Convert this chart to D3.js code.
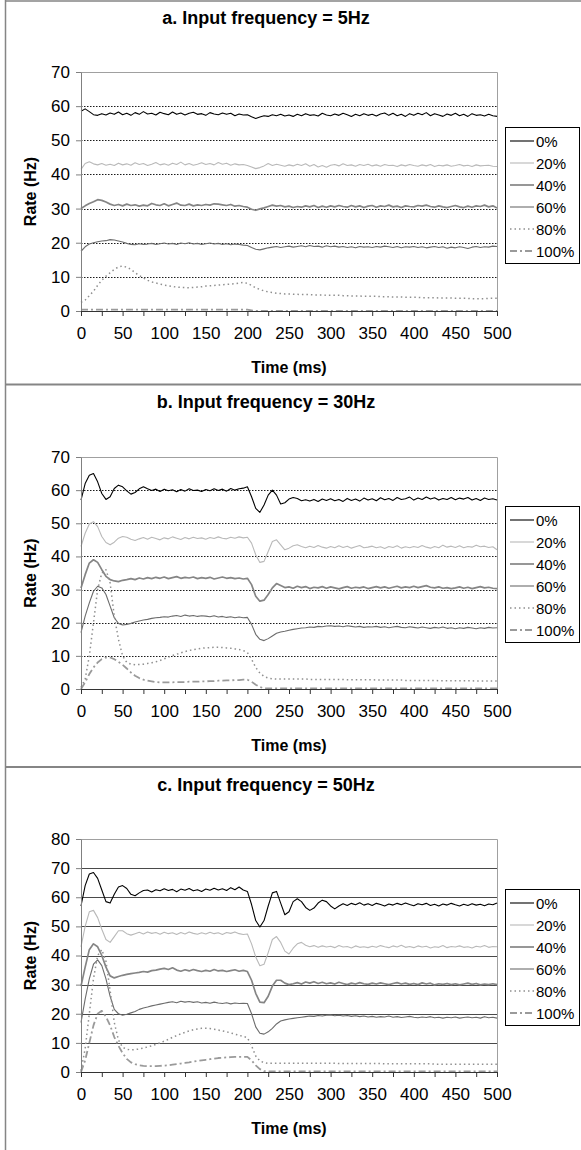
<!DOCTYPE html>
<html><head><meta charset="utf-8">
<script src="https://cdn.jsdelivr.net/npm/d3@7"></script>
<style>body{margin:0;background:#fff}svg{display:block}text{font-family:"Liberation Sans",Arial,sans-serif;fill:#000}</style>
</head><body><svg id="c" width="581" height="1150"></svg>
<script>
const times = [0,5,10,15,20,25,30,35,40,45,50,55,60,65,70,75,80,85,90,95,100,105,110,115,120,125,130,135,140,145,150,155,160,165,170,175,180,185,190,195,200,205,210,215,220,225,230,235,240,245,250,255,260,265,270,275,280,285,290,295,300,305,310,315,320,325,330,335,340,345,350,355,360,365,370,375,380,385,390,395,400,405,410,415,420,425,430,435,440,445,450,455,460,465,470,475,480,485,490,495,500];
const seriesNames = ["0%","20%","40%","60%","80%","100%"];
const panelTitles = ["a. Input frequency = 5Hz","b. Input frequency = 30Hz","c. Input frequency = 50Hz"];
const yTicksA = [0,10,20,30,40,50,60,70];
const yTicksB = [0,10,20,30,40,50,60,70];
const yTicksC = [0,10,20,30,40,50,60,70,80];
const xTickLabels = [0,50,100,150,200,250,300,350,400,450,500];
const xTickMarks = [0,25,50,75,100,125,150,175,200,225,250,275,300,325,350,375,400,425,450,475,500];

// Panel a (5 Hz)
const a0 = [58.5,59.2,58.4,57.5,57.3,57.8,57.4,58.0,57.6,58.3,57.5,57.9,57.3,58.1,57.6,58.4,57.7,57.9,57.4,58.2,
 57.8,57.5,58.3,57.6,58.0,57.4,57.9,58.2,57.6,57.8,
 57.3,58.1,57.7,57.5,58.0,57.6,57.9,57.2,57.7,57.4,
 57.5,56.9,56.4,56.8,57.2,57.0,57.5,57.2,57.6,57.1,
 57.4,57.0,57.6,57.2,57.8,57.3,57.5,57.1,57.9,57.4,
 57.2,57.7,57.3,57.9,57.5,57.0,57.6,57.2,57.8,57.3,
 57.6,57.1,57.7,58.0,57.3,57.9,57.2,57.6,57.0,57.8,
 57.3,57.9,57.5,58.1,57.2,57.8,57.4,57.0,57.7,57.3,
 57.9,57.2,57.6,57.0,57.8,57.3,57.5,57.1,57.6,57.2,
 57.0];
const a20 = [41.5,43.2,43.7,43.1,42.8,43.2,42.7,43.0,42.6,43.3,
 42.8,43.1,42.7,43.4,42.9,43.2,42.6,43.0,43.5,42.8,
 43.1,42.7,43.3,42.9,43.6,42.8,43.2,42.7,43.0,43.4,
 42.9,43.2,42.8,43.5,43.0,43.3,42.7,43.1,42.8,42.9,
 42.6,42.2,41.7,42.0,42.5,43.2,42.6,43.0,42.7,42.4,
 42.8,42.5,43.0,42.6,43.1,42.4,42.9,42.2,42.6,42.1,
 42.7,42.9,42.5,43.1,42.6,42.8,42.4,42.9,42.6,43.0,
 42.5,42.8,42.4,42.9,42.6,42.7,42.3,42.8,42.5,42.9,
 42.6,42.4,42.8,42.5,42.9,42.3,42.7,42.5,42.8,42.4,
 42.6,42.9,42.5,42.7,42.3,42.8,42.5,42.6,42.7,42.4,
 42.3];
const a40 = [30.0,30.8,31.5,32.0,32.6,32.4,31.9,31.3,30.9,31.2,
 30.8,31.3,30.9,31.1,30.7,31.0,30.8,31.5,31.1,30.9,
 31.4,30.8,31.2,31.6,31.0,30.9,31.3,30.8,31.1,30.9,
 31.2,31.0,31.4,31.3,31.1,30.9,31.2,30.7,30.9,30.6,
 30.4,29.8,29.5,29.9,30.2,30.6,31.0,30.7,30.9,30.5,
 30.7,30.3,30.6,30.4,30.8,30.5,30.9,30.3,30.7,30.4,
 30.8,30.5,30.9,30.6,30.4,30.9,30.5,30.8,30.3,30.7,
 30.9,30.4,30.8,30.6,31.0,30.5,30.7,30.3,30.8,30.6,
 30.5,30.9,30.7,31.0,30.6,30.4,30.8,30.5,30.3,30.6,
 30.9,30.5,30.3,30.7,30.4,30.8,30.6,31.0,30.5,30.8,
 30.2];
const a60 = [17.5,18.8,19.6,20.0,20.3,20.5,20.6,20.9,20.8,20.5,
 20.2,19.8,19.5,19.4,19.7,19.5,19.6,19.8,19.5,19.7,
 19.9,19.6,19.8,19.5,19.9,19.7,20.0,19.6,19.8,19.5,
 19.7,19.9,19.6,19.8,19.5,19.7,19.4,19.6,19.5,19.3,
 19.2,18.6,18.1,17.9,18.2,18.5,18.7,18.9,18.6,18.8,
 19.0,18.7,18.9,19.1,18.8,19.2,18.9,19.0,18.7,19.1,
 18.8,19.0,18.7,18.9,18.6,18.8,18.5,18.9,18.7,18.8,
 18.6,18.9,18.7,19.0,18.8,18.6,18.9,18.5,18.8,18.7,
 18.9,18.6,18.8,18.5,18.7,18.9,18.6,18.8,18.4,18.7,
 18.5,18.8,18.6,18.3,18.7,18.9,18.6,18.8,18.7,19.0,
 18.9];
const a80 = [2.5,3.2,4.5,5.8,7.5,9.0,10.2,11.2,12.2,12.9,
 13.2,12.8,12.2,11.2,10.4,9.7,9.0,8.5,8.2,7.9,
 7.6,7.4,7.2,7.0,6.9,6.9,6.8,6.9,7.0,7.1,
 7.3,7.4,7.5,7.6,7.7,7.8,7.9,8.0,8.2,8.4,
 8.1,7.5,6.8,6.3,5.9,5.6,5.4,5.2,5.1,5.0,
 5.0,4.9,4.9,4.8,4.8,4.8,4.7,4.7,4.7,4.6,
 4.6,4.6,4.6,4.5,4.5,4.4,4.4,4.4,4.3,4.3,
 4.3,4.3,4.2,4.2,4.2,4.1,4.1,4.1,4.0,4.0,
 4.0,4.0,3.9,3.9,3.9,3.9,3.8,3.8,3.8,3.8,
 3.7,3.7,3.7,3.7,3.6,3.6,3.6,3.6,3.7,3.7,
 3.7];
const a100 = [0.4,0.4,0.4,0.4,0.4,0.4,0.4,0.4,0.4,0.4,
 0.4,0.4,0.4,0.4,0.4,0.4,0.4,0.4,0.4,0.4,
 0.4,0.4,0.4,0.4,0.4,0.4,0.4,0.4,0.4,0.4,
 0.4,0.4,0.4,0.4,0.4,0.4,0.4,0.4,0.4,0.4,
 0.4,0.2,0,0,0,0,0,0,0,0,
 0,0,0,0,0,0,0,0,0,0,
 0,0,0,0,0,0,0,0,0,0,
 0,0,0,0,0,0,0,0,0,0,
 0,0,0,0,0,0,0,0,0,0,
 0,0,0,0,0,0,0,0,0,0,
 0];

// Panel b (30 Hz)
const b0 = [57.0,62.0,64.5,65.0,62.5,59.0,57.2,58.0,60.5,61.5,
 61.0,59.8,58.8,59.3,60.4,61.0,60.4,59.9,60.3,59.6,
 60.3,59.8,60.1,59.5,60.2,59.7,60.4,59.9,60.0,59.6,
 60.2,59.8,60.4,59.9,60.3,59.7,60.5,60.0,60.4,60.6,
 61.0,58.0,54.5,53.3,55.5,58.5,60.0,58.5,55.8,56.2,
 57.3,57.8,57.5,56.8,57.1,56.7,57.2,56.6,57.3,56.9,
 57.4,56.8,57.2,56.6,57.5,56.9,57.3,56.7,57.6,57.0,
 57.4,56.8,57.7,57.1,57.5,56.9,57.8,57.2,57.4,57.9,
 57.0,57.6,57.2,57.9,57.3,57.7,57.0,57.5,57.2,57.8,
 57.1,57.6,57.3,57.8,57.0,57.5,56.9,57.6,57.2,57.4,
 57.0];
const b20 = [43.0,47.0,49.8,50.5,49.0,46.0,44.2,43.5,44.3,45.5,
 46.0,45.8,45.2,44.8,45.3,45.7,45.2,45.8,45.4,45.0,
 45.6,45.3,45.9,45.5,45.1,45.7,45.3,45.8,45.4,45.6,
 45.2,45.7,45.4,45.9,45.5,45.3,45.8,45.5,45.9,45.6,
 45.8,44.0,40.5,38.2,38.5,41.5,44.5,45.0,43.5,42.0,
 42.5,43.2,43.5,43.0,42.6,43.1,42.7,43.3,42.8,42.5,
 43.0,42.6,43.2,42.7,43.1,42.5,42.9,43.3,42.6,42.8,
 43.1,42.6,42.9,42.4,43.0,42.7,43.2,42.5,42.9,42.6,
 43.0,42.7,43.3,42.8,42.5,43.0,42.6,43.4,42.8,43.1,
 42.7,43.2,42.6,43.0,42.8,43.4,42.9,43.1,42.7,42.9,
 42.0];
const b40 = [30.5,34.5,38.0,39.0,38.2,36.0,34.0,33.0,32.6,32.4,
 32.8,33.0,33.3,33.0,33.5,33.2,33.6,33.3,33.7,33.4,
 33.8,33.3,33.6,33.9,33.4,33.7,33.5,33.8,33.3,33.6,
 33.4,33.7,33.2,33.5,33.8,33.4,33.6,33.3,33.5,33.2,
 33.4,31.5,28.0,26.5,26.8,28.5,30.5,31.8,31.2,30.6,
 30.8,30.4,31.0,30.6,30.9,30.3,30.7,30.5,30.9,30.4,
 30.8,30.5,30.2,30.6,30.9,30.4,30.7,30.5,30.8,30.3,
 30.6,30.9,30.5,30.8,30.4,30.7,31.0,30.5,30.8,30.6,
 31.0,30.6,30.9,31.2,30.7,30.5,30.8,30.4,30.6,30.3,
 30.5,30.8,30.4,30.7,30.3,30.6,30.9,30.5,30.7,30.4,
 30.3];
const b60 = [17.0,22.0,26.0,29.5,31.0,30.5,28.5,25.0,21.5,19.8,
 19.3,19.5,19.8,20.2,20.5,20.8,21.0,21.3,21.5,21.6,
 21.8,21.7,22.0,22.2,21.9,22.3,22.0,22.2,21.9,22.1,
 22.0,21.8,22.1,21.7,21.9,21.6,21.8,21.5,21.7,21.5,
 21.6,19.5,16.5,15.0,14.6,15.2,16.0,16.8,17.2,17.4,
 17.7,18.0,18.2,18.4,18.5,18.7,18.6,18.9,18.8,19.0,
 19.1,18.9,19.0,18.8,19.1,18.9,18.7,18.9,18.6,18.8,
 18.7,18.9,18.6,18.8,18.5,18.7,18.9,18.6,18.5,18.8,
 18.6,18.4,18.7,18.5,18.3,18.6,18.4,18.7,18.3,18.5,
 18.2,18.5,18.3,18.6,18.4,18.2,18.5,18.3,18.6,18.4,
 18.5];
const b80 = [0.5,3.0,10.0,20.0,30.0,35.0,36.0,32.0,22.0,15.0,
 10.0,8.0,7.5,7.3,7.4,7.5,7.7,7.9,8.2,8.6,
 9.1,9.6,10.1,10.5,10.9,11.3,11.6,11.9,12.1,12.3,
 12.4,12.5,12.6,12.6,12.5,12.4,12.3,12.1,11.9,11.6,
 11.0,9.0,6.5,4.8,3.8,3.3,3.1,3.0,3.0,3.0,
 3.0,3.0,3.0,3.0,3.0,2.9,2.9,2.9,2.9,2.9,
 2.9,2.9,2.9,2.9,2.8,2.8,2.8,2.8,2.8,2.8,
 2.8,2.7,2.7,2.7,2.7,2.7,2.7,2.7,2.6,2.6,
 2.6,2.6,2.6,2.6,2.6,2.6,2.5,2.5,2.5,2.5,
 2.5,2.5,2.5,2.5,2.5,2.4,2.4,2.4,2.4,2.4,
 2.4];
const b100 = [0.0,2.0,4.5,6.5,8.0,9.0,9.5,9.5,9.0,8.2,
 7.3,6.2,5.0,4.0,3.3,2.8,2.5,2.3,2.1,2.0,
 2.0,2.0,2.0,2.1,2.1,2.1,2.2,2.2,2.2,2.3,
 2.3,2.4,2.4,2.5,2.5,2.6,2.6,2.7,2.7,2.8,
 2.8,2.2,1.3,0.6,0.2,0.2,0.2,0.2,0.2,0.2,
 0.2,0.2,0.2,0.2,0.2,0.2,0.2,0.2,0.2,0.2,
 0.2,0.2,0.2,0.2,0.2,0.2,0.2,0.2,0.2,0.2,
 0.2,0.2,0.2,0.2,0.2,0.2,0.2,0.2,0.2,0.2,
 0.2,0.2,0.2,0.2,0.2,0.2,0.2,0.2,0.2,0.2,
 0.2,0.2,0.2,0.2,0.2,0.2,0.2,0.2,0.2,0.2,
 0.2];

// Panel c (50 Hz)
const c0 = [57.0,64.0,68.0,68.5,66.5,62.5,58.5,58.0,61.0,63.5,
 64.0,63.0,61.0,60.5,61.5,62.3,62.5,61.8,62.6,62.2,
 62.9,62.3,62.7,61.9,62.8,62.4,63.0,62.2,62.6,62.0,
 62.8,62.4,63.1,62.5,62.9,62.3,63.3,62.6,63.5,62.5,
 62.0,57.5,52.0,49.8,52.0,57.0,61.5,62.0,58.0,54.0,
 55.0,58.5,59.5,58.5,56.5,55.5,56.3,58.0,59.0,58.5,
 57.0,56.0,57.0,57.8,57.2,57.9,57.4,58.1,57.3,57.8,
 57.2,57.9,57.5,57.0,57.7,57.3,57.9,57.4,58.0,57.5,
 57.1,57.8,57.4,57.9,57.2,57.6,57.0,57.7,57.3,57.9,
 57.4,57.0,57.6,57.2,57.8,57.3,57.6,57.1,57.7,57.4,
 58.0];
const c20 = [43.0,50.0,55.0,55.5,53.0,49.0,45.5,44.5,46.5,48.5,
 48.5,47.5,47.0,47.5,48.0,47.4,48.1,47.6,47.9,47.3,
 48.0,47.5,47.8,47.2,47.9,47.4,48.1,47.6,47.3,47.8,
 47.4,48.0,47.5,47.8,47.2,47.9,47.6,48.1,47.5,47.2,
 47.4,44.0,39.5,36.5,37.0,41.0,45.5,46.5,44.5,41.5,
 40.5,42.5,44.0,44.5,43.5,43.0,43.4,42.8,43.3,42.9,
 43.2,42.7,43.4,42.9,43.1,42.6,43.3,42.8,43.0,42.7,
 43.2,42.8,43.4,43.0,42.7,43.3,42.9,43.5,42.8,43.1,
 42.7,43.3,42.9,43.2,42.6,43.0,42.8,43.4,42.7,43.1,
 42.9,43.3,42.8,43.0,42.6,43.2,42.9,43.4,42.8,43.1,
 43.0];
const c40 = [29.5,36.0,42.0,44.0,43.0,40.0,36.0,33.0,32.3,32.8,
 33.2,33.5,33.8,34.0,34.2,34.5,34.3,34.8,35.0,35.3,
 35.6,35.2,35.8,35.0,34.6,35.1,34.7,35.2,34.8,34.5,
 34.9,34.6,35.2,34.7,34.9,34.5,34.8,35.1,34.6,34.9,
 34.5,31.5,27.0,24.0,23.8,26.0,29.5,31.5,31.5,30.5,
 30.0,30.3,30.7,30.2,30.9,30.5,31.0,30.4,30.8,30.3,
 30.6,30.2,30.8,30.4,30.0,30.5,30.2,30.7,30.3,30.1,
 30.5,30.2,30.6,30.3,30.0,30.4,30.7,30.2,30.5,30.1,
 30.4,30.0,30.6,30.2,30.5,29.9,30.3,30.1,30.4,30.0,
 30.3,29.9,30.2,30.5,30.1,30.4,29.9,30.2,30.0,30.3,
 30.0];
const c60 = [17.0,25.0,32.0,37.0,38.5,36.5,32.0,26.0,21.5,20.0,
 19.5,19.8,20.3,20.8,21.5,22.0,22.3,22.7,23.0,23.3,
 23.6,23.9,24.1,23.8,24.3,24.0,24.2,23.9,24.1,23.7,
 23.9,23.6,24.0,23.7,23.5,23.8,23.4,23.7,23.5,23.6,
 23.5,20.0,15.5,13.3,13.0,13.8,15.0,16.5,17.5,17.9,
 18.2,18.4,18.6,18.8,19.0,19.2,19.1,19.4,19.2,19.5,
 19.6,19.3,19.5,19.2,19.4,19.1,19.3,19.0,19.2,18.9,
 19.1,18.8,19.0,18.9,19.2,18.8,19.0,18.7,18.9,19.1,
 18.8,18.6,18.9,18.7,19.0,18.6,18.8,18.5,18.8,18.6,
 18.9,18.5,18.7,18.9,18.6,18.8,18.5,19.0,18.6,18.8,
 18.5];
const c80 = [0.5,8.0,20.0,32.0,40.0,42.0,38.0,28.0,17.0,11.0,
 8.5,7.8,7.6,7.7,7.9,8.2,8.6,9.0,9.5,10.0,
 10.6,11.2,11.9,12.5,13.1,13.6,14.1,14.5,14.8,15.0,
 15.0,14.9,14.7,14.4,14.1,13.8,13.4,13.0,12.6,12.2,
 11.8,9.0,5.5,3.8,3.2,3.0,3.0,3.0,3.0,3.0,
 3.0,3.0,3.0,3.0,3.0,3.0,3.0,3.0,3.0,3.0,
 3.0,3.0,2.9,2.9,2.9,2.9,2.9,2.9,2.9,2.9,
 2.9,2.9,2.9,2.8,2.8,2.8,2.8,2.8,2.8,2.8,
 2.8,2.8,2.8,2.8,2.8,2.7,2.7,2.7,2.7,2.7,
 2.7,2.7,2.7,2.7,2.7,2.7,2.7,2.7,2.7,2.7,
 2.7];
const c100 = [0.0,4.0,10.0,16.0,20.0,21.0,19.0,16.0,12.0,9.0,
 6.5,4.5,3.3,2.7,2.3,2.1,2.0,2.0,2.0,2.1,
 2.2,2.3,2.5,2.7,2.9,3.1,3.3,3.6,3.8,4.0,
 4.2,4.4,4.6,4.8,4.9,5.0,5.1,5.2,5.2,5.2,
 5.2,4.0,2.3,1.0,0.3,0.2,0.2,0.2,0.2,0.2,
 0.2,0.2,0.2,0.2,0.2,0.2,0.2,0.2,0.2,0.2,
 0.2,0.2,0.2,0.2,0.2,0.2,0.2,0.2,0.2,0.2,
 0.2,0.2,0.2,0.2,0.2,0.2,0.2,0.2,0.2,0.2,
 0.2,0.2,0.2,0.2,0.2,0.2,0.2,0.2,0.2,0.2,
 0.2,0.2,0.2,0.2,0.2,0.2,0.2,0.2,0.2,0.2,
 0.2];

const panelSeries = [[a0,a20,a40,a60,a80,a100],[b0,b20,b40,b60,b80,b100],[c0,c20,c40,c60,c80,c100]];
const panelYTicks = [yTicksA, yTicksB, yTicksC];

const svg = d3.select("#c");
const FONT = '"Liberation Sans", Arial, sans-serif';

const layout = [
  {oy:0,   top:72, bottom:311, legendTop:127, grid:"dot"},
  {oy:384, top:73, bottom:305, legendTop:122, grid:"dot"},
  {oy:767, top:72, bottom:305, legendTop:122, grid:"solid"}
];
const styles = [
  {stroke:"#000000", w:1.1, dash:null},
  {stroke:"#b9b9b9", w:1.1, dash:null},
  {stroke:"#858585", w:1.7, dash:null},
  {stroke:"#6c6c6c", w:1.1, dash:null},
  {stroke:"#8f8f8f", w:1.5, dash:"1.5,3"},
  {stroke:"#9a9a9a", w:1.8, dash:"7,3,2,3"}
];
const x = d3.scaleLinear().domain([0,500]).range([81,497]);

// frame
svg.append("line").attr("x1",5.5).attr("x2",5.5).attr("y1",0).attr("y2",1150).attr("stroke","#858585").attr("stroke-width",1.5);
svg.append("line").attr("x1",5).attr("x2",581).attr("y1",1).attr("y2",1).attr("stroke","#858585").attr("stroke-width",1.5);
[384.5, 767].forEach(yy => svg.append("line").attr("x1",5).attr("x2",581).attr("y1",yy).attr("y2",yy).attr("stroke","#858585").attr("stroke-width",1.8));

layout.forEach((L, p) => {
  const g = svg.append("g").attr("transform", `translate(0,${L.oy})`);
  const ticks = panelYTicks[p];
  const yMax = ticks[ticks.length-1];
  const y = d3.scaleLinear().domain([0,yMax]).range([L.bottom, L.top]);

  // title
  g.append("text").attr("x",266).attr("y",24).attr("text-anchor","middle")
    .style("font-family",FONT).style("font-size","18px").style("font-weight","bold").text(panelTitles[p]);

  // gridlines
  ticks.filter(t => t>0 && t<yMax).forEach(t => {
    g.append("line").attr("x1",x(0)).attr("x2",x(500)).attr("y1",Math.round(y(t))+0.5).attr("y2",Math.round(y(t))+0.5)
      .attr("stroke", L.grid==="dot" ? "#000" : "#4a4a4a")
      .attr("stroke-width", L.grid==="dot" ? 0.9 : 1)
      .attr("stroke-dasharray", L.grid==="dot" ? "1.5,1.5" : null);
  });
  // plot border top/right
  g.append("path").attr("d",`M${x(0)},${Math.round(y(yMax))+0.5}H${x(500)+0.5}V${y(0)}`)
    .attr("fill","none").attr("stroke","#a0a0a0").attr("stroke-width",1);

  // series
  const line = d3.line().x((d,i)=>x(times[i])).y(d=>y(d));
  panelSeries[p].forEach((vals, s) => {
    const st = styles[s];
    g.append("path").datum(vals).attr("d",line).attr("fill","none")
      .attr("stroke",st.stroke).attr("stroke-width",st.w)
      .attr("stroke-dasharray",st.dash).attr("stroke-linejoin","round");
  });

  // y axis
  const ya = g.append("g").attr("transform",`translate(${x(0)},0)`)
    .call(d3.axisLeft(y).tickValues(ticks).tickSize(5).tickPadding(6).tickSizeOuter(0));
  ya.select(".domain").attr("stroke","#808080");
  ya.selectAll(".tick line").attr("stroke","#808080");
  ya.selectAll("text").style("font-family",FONT).style("font-size","17px").attr("fill","#000");

  // x axis
  const xa = g.append("g").attr("transform",`translate(0,${L.bottom})`)
    .call(d3.axisBottom(x).tickValues(xTickMarks).tickSize(5).tickPadding(11).tickSizeOuter(0)
      .tickFormat(d => xTickLabels.includes(d) ? String(d) : ""));
  xa.select(".domain").attr("stroke","#333");
  xa.selectAll(".tick line").attr("stroke","#333");
  xa.selectAll("text").style("font-family",FONT).style("font-size","17px").attr("fill","#000");

  // axis titles
  g.append("text").attr("x",x(250)).attr("y",L.bottom+62).attr("text-anchor","middle")
    .style("font-family",FONT).style("font-size","16px").style("font-weight","bold").text("Time (ms)");
  g.append("text").attr("transform",`translate(36,${(L.top+L.bottom)/2}) rotate(-90)`).attr("text-anchor","middle")
    .style("font-family",FONT).style("font-size","16px").style("font-weight","bold").text("Rate (Hz)");

  // legend
  const lg = g.append("g").attr("transform",`translate(505,${L.legendTop})`);
  lg.append("rect").attr("x",0.5).attr("y",0.5).attr("width",74).attr("height",136)
    .attr("fill","#fff").attr("stroke","#000").attr("stroke-width",1);
  seriesNames.forEach((nm, s) => {
    const st = styles[s];
    const yy = 14 + s*22;
    lg.append("line").attr("x1",5).attr("x2",29).attr("y1",yy).attr("y2",yy)
      .attr("stroke",st.stroke).attr("stroke-width",st.w).attr("stroke-dasharray",st.dash);
    lg.append("text").attr("x",31).attr("y",yy+5.5).style("font-family",FONT).style("font-size","15px").text(nm);
  });
});
</script></body></html>
